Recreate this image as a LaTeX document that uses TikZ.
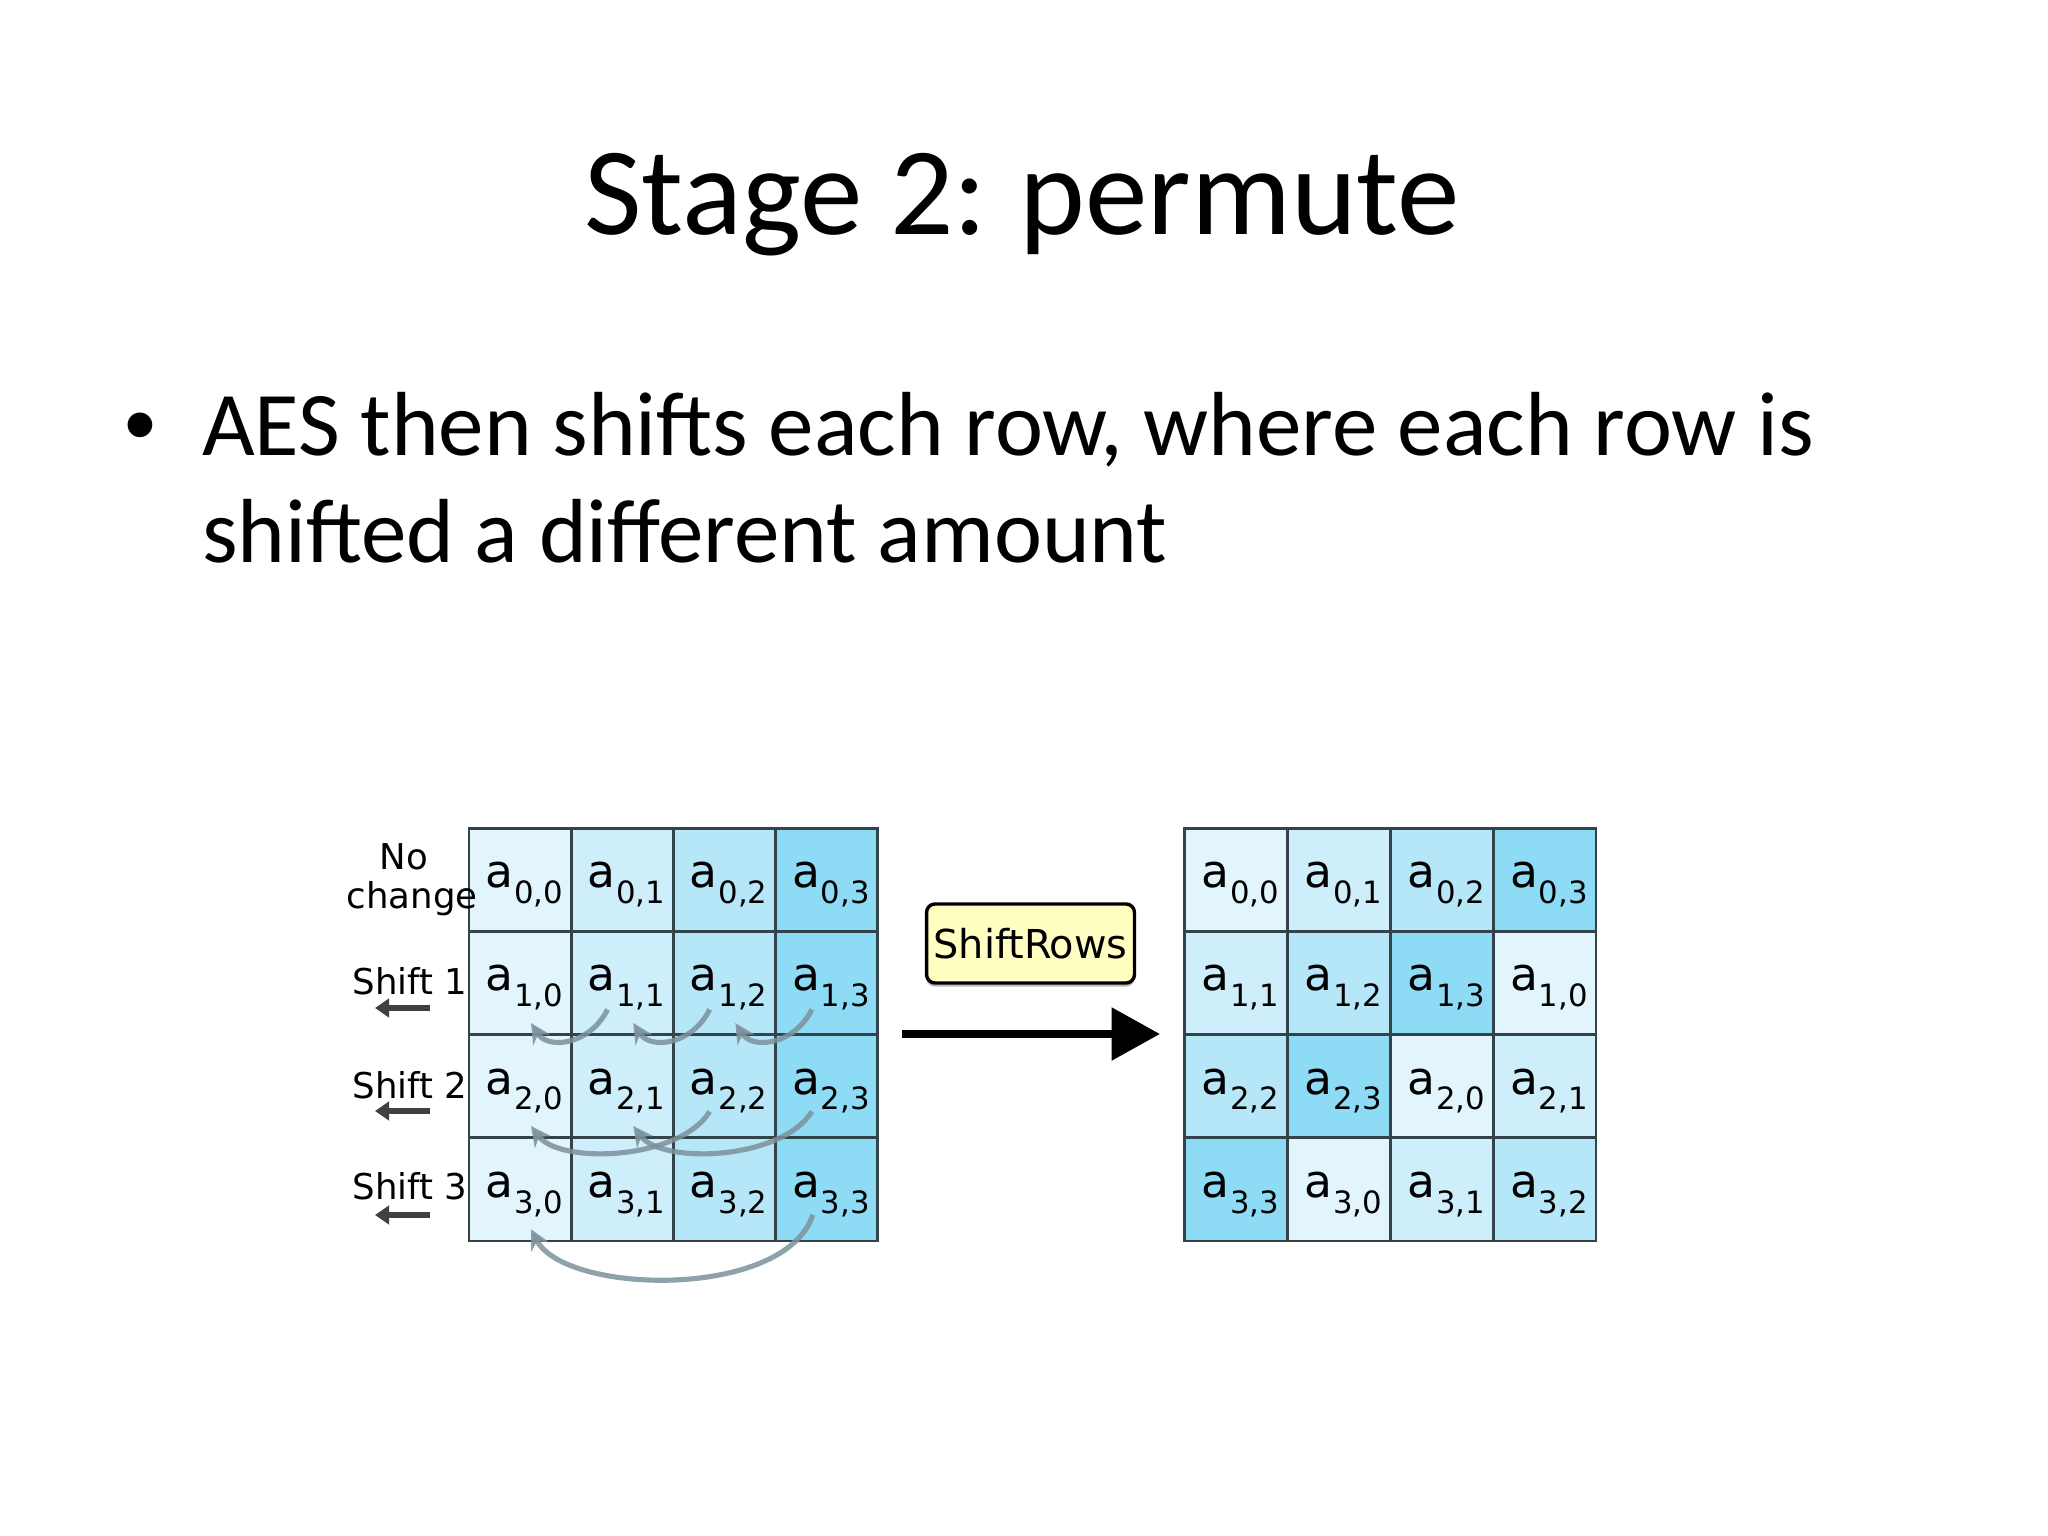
\documentclass[tikz,border=0pt]{standalone}
\usepackage{fontspec}
\setmainfont{Carlito}
\newfontfamily\pixfont{DejaVu Sans}
\newfontfamily\bulfont{Liberation Sans}
\usetikzlibrary{arrows.meta,shadows}
\definecolor{col0}{HTML}{E2F5FC}
\definecolor{col1}{HTML}{CDEEFA}
\definecolor{col2}{HTML}{B6E7F9}
\definecolor{col3}{HTML}{8EDBF6}
\definecolor{gridline}{HTML}{34434A}
\definecolor{arcgray}{HTML}{7C919C}
\definecolor{boxyellow}{HTML}{FFFFC2}
\newcommand{\cellsym}[2]{{\pixfont\fontsize{16}{16}\selectfont a\kern0.3pt\raisebox{-5.6pt}{\fontsize{10.8}{10.8}\selectfont #1,#2}}}
\begin{document}
\begin{tikzpicture}[x=0.3515625pt,y=-0.3515625pt,
  txt/.style={inner sep=0pt, outer sep=0pt},
  lcell/.style={draw=gridline, line width=1pt, minimum width=35.93pt, minimum height=36.28pt, inner sep=0pt, anchor=north west},
  rcell/.style={draw=gridline, line width=1pt, minimum width=36.18pt, minimum height=36.28pt, inner sep=0pt, anchor=north west},
  celltext/.style={txt, anchor=base west},
  rowlabel/.style={txt, anchor=base, font=\pixfont\fontsize{12.5}{12.5}\selectfont},
  shiftarrow/.style={draw=black!75, line width=1.8pt, -{Triangle[length=5pt,width=6.5pt]}},
  arcarrow/.style={draw=arcgray, line width=1.8pt, opacity=0.85, -{Stealth[length=7pt,width=7pt]}},
  shiftbox/.style={draw=black, line width=1.2pt, fill=boxyellow, rounded corners=3pt, minimum width=73.1pt, minimum height=27.8pt, inner sep=0pt, drop shadow={shadow xshift=0pt, shadow yshift=-1.3pt, fill=black!45, opacity=0.6}},
]
\useasboundingbox[fill=white] (0,0) rectangle (2048,1536);

% title and bullet text
\node[txt, anchor=base] (title) at (1022,235) {\fontsize{44}{44}\selectfont Stage 2:\kern-2pt{} permute};
\node[txt, anchor=base west] (bullet) at (124,456) {\bulfont\fontsize{32}{32}\selectfont •};
\node[txt, anchor=base west] (line1) at (202,456) {\fontsize{32}{32}\selectfont AES then shifts each row, where each row is};
\node[txt, anchor=base west] (line2) at (202,563) {\fontsize{32}{32}\selectfont shifted a different amount};

% left grid
\foreach \r in {0,...,3} {
  \foreach \c in {0,...,3} {
    \pgfmathsetmacro\xx{467.5+\c*102.2}
    \pgfmathsetmacro\yy{826.7+\r*103.2}
    \node[lcell, fill=col\c] (L-\r-\c) at (\xx,\yy) {};
  }
}
% right grid
\foreach \r in {0,...,3} {
  \foreach \c in {0,...,3} {
    \pgfmathsetmacro\xx{1183+\c*102.9}
    \pgfmathsetmacro\yy{826.7+\r*103.2}
    \pgfmathtruncatemacro\src{mod(\c+\r,4)}
    \node[rcell, fill=col\src] (R-\r-\c) at (\xx,\yy) {};
  }
}

% curved shift arrows (left grid)
\coordinate (a1s0) at (607.5,1009.4); \coordinate (a1e0) at (531,1023);
\coordinate (a1s1) at (709.7,1009.4); \coordinate (a1e1) at (633.2,1023);
\coordinate (a1s2) at (811.9,1009.4); \coordinate (a1e2) at (735.4,1023);
\draw[arcarrow] (a1s0) .. controls (590,1045) and (548,1050) .. (a1e0);
\draw[arcarrow] (a1s1) .. controls (692.2,1045) and (650.2,1050) .. (a1e1);
\draw[arcarrow] (a1s2) .. controls (794.4,1045) and (752.4,1050) .. (a1e2);
\coordinate (a2s0) at (709.7,1111.5); \coordinate (a2e0) at (531,1126);
\coordinate (a2s1) at (811.9,1111.5); \coordinate (a2e1) at (633.2,1126);
\draw[arcarrow] (a2s0) .. controls (680,1160) and (560,1165) .. (a2e0);
\draw[arcarrow] (a2s1) .. controls (782.2,1160) and (662.2,1165) .. (a2e1);
\coordinate (a3s0) at (812.9,1214.7); \coordinate (a3e0) at (531,1229.2);
\draw[arcarrow] (a3s0) .. controls (785,1300) and (565,1295) .. (a3e0);

% cell texts
\foreach \r in {0,...,3} {
  \foreach \c in {0,...,3} {
    \pgfmathsetmacro\xx{467.5+\c*102.2+18}
    \pgfmathsetmacro\yy{826.7+\r*103.2+60.9}
    \node[celltext] (Lt-\r-\c) at (\xx,\yy) {\cellsym{\r}{\c}};
    \pgfmathsetmacro\xr{1183+\c*102.9+18.5}
    \pgfmathtruncatemacro\src{mod(\c+\r,4)}
    \node[celltext] (Rt-\r-\c) at (\xr,\yy) {\cellsym{\r}{\src}};
  }
}

% row labels
\node[rowlabel] (lblno) at (404,869) {No};
\node[rowlabel] (lblchange) at (412,908) {change};
\node[rowlabel] (lbls1) at (410,994) {Shift 1};
\node[rowlabel] (lbls2) at (410,1098) {Shift 2};
\node[rowlabel] (lbls3) at (410,1199) {Shift 3};
\coordinate (sa1s) at (430,1008); \coordinate (sa1e) at (375,1008);
\coordinate (sa2s) at (430,1111); \coordinate (sa2e) at (375,1111);
\coordinate (sa3s) at (430,1215); \coordinate (sa3e) at (375,1215);
\draw[shiftarrow] (sa1s) -- (sa1e);
\draw[shiftarrow] (sa2s) -- (sa2e);
\draw[shiftarrow] (sa3s) -- (sa3e);

% ShiftRows box and arrow
\node[shiftbox] (shiftrows) at (1030.5,943.5) {\pixfont\fontsize{14}{14}\selectfont ShiftRows};
\coordinate (bigS) at (902,1034);
\coordinate (bigE) at (1160,1034);
\draw[line width=2.8pt, -{Triangle[length=17pt,width=18pt]}] (bigS) -- (bigE);
\end{tikzpicture}
\end{document}
